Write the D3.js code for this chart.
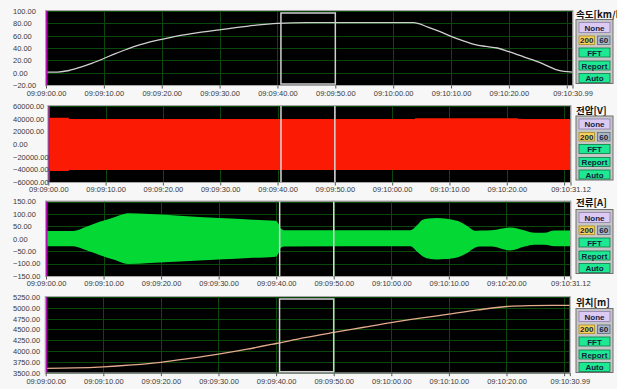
<!DOCTYPE html>
<html>
<head>
<meta charset="utf-8">
<script src="https://cdn.jsdelivr.net/npm/d3@7"></script>
<style>
  html, body { margin: 0; padding: 0; background: #f7f7f7; }
  svg { display: block; }
  .tick text { font-family: "Liberation Sans", Arial, sans-serif; font-size: 7.5px; fill: #3a3a3a; }
  .title { font-family: "Noto Sans CJK KR", sans-serif; font-weight: 700; font-size: 9.5px; fill: #111; }
  .btn { font-family: "Liberation Sans", Arial, sans-serif; font-weight: 700; font-size: 8px; fill: #13233d; }
</style>
</head>
<body>
<svg id="chart" width="617" height="389"></svg>
<script>
// Time is in seconds after 09:09:00.00
const tickSeconds = [0, 10, 20, 30, 40, 50, 60, 70, 80, 90];
const recordEnds = [90.99, 91.12, 91.12, 90.99];
const panelTitles = ["속도[km/h]", "전압[V]", "전류[A]", "위치[m]"];
const selection = [40.6, 50.0];

// Speed [km/h]
const speedTime  = [0, 2, 4, 6, 8, 10, 12, 14, 16, 18, 20, 23, 26, 30, 35, 40, 45, 55, 63.5, 66, 68, 70, 72, 74, 76, 78, 80, 82, 84, 86, 88, 89.5, 90.99];
const speedValue = [0.8, 1, 3.5, 9, 15.5, 23, 31, 38, 44.5, 50, 54, 60, 64.5, 69.5, 75.5, 80, 81, 81, 81, 74, 67, 59, 52, 46, 42.5, 40, 34, 27.5, 21, 14, 5.5, 2, 1];
const speedTicks = [-20, 0, 20, 40, 60, 80, 100];

// Voltage [V] envelope of the carrier waveform
const voltTime  = [0, 3.5, 3.6, 63, 64, 81, 82, 91.12];
const voltUpper = [41500, 41500, 39500, 39500, 40800, 40800, 39500, 39500];
const voltLower = [-42500, -42500, -41000, -41000, -41000, -41000, -41000, -41000];
const voltTicks = [-60000, -40000, -20000, 0, 20000, 40000, 60000];

// Current [A] envelope
const currTime  = [0, 4.7, 7, 9.3, 12, 14.2, 18, 23.2, 30, 36, 39.9, 40.4, 40.8, 41.5, 63.3, 64.5, 65.3, 66.4, 68, 69.3, 71.6, 73.4, 74.5, 75.5, 77.4, 80.6, 83.2, 84.9, 86.6, 88.4, 91.12];
const currUpper = [31, 31, 48, 68, 88, 103, 100, 93, 84, 77, 72, 60, 41, 34, 34, 55, 75, 82, 84, 82, 71, 48, 32, 33, 34, 45, 33, 24, 24, 33, 33];
const currLower = [-30, -30, -46, -65, -86, -102, -98, -92, -84, -77, -72, -58, -36, -31, -30, -52, -68, -80, -84, -82, -74, -54, -36, -31, -31, -47, -31, -24, -24, -30, -30];
const currTicks = [-150, -100, -50, 0, 50, 100, 150];

// Position [m]
const posTime  = [0, 5, 10, 15, 20, 25, 30, 35, 40, 45, 50, 55, 60, 65, 70, 75, 80, 84, 88, 90.99];
const posValue = [3602, 3610, 3635, 3680, 3741, 3830, 3930, 4045, 4175, 4310, 4430, 4545, 4660, 4760, 4852, 4950, 5030, 5052, 5058, 5058];
const posTicks = [3500, 3750, 4000, 4250, 4500, 4750, 5000, 5250];

// Button labels on each side panel
const buttonRows = [["None"], ["200", "60"], ["FFT"], ["Report"], ["Auto"]];

const svg = d3.select("#chart");

const layouts = [
  { left: 46,   right: 572.5, top: 11,    bottom: 85,    box: 19.5,  titleY: 17.5, pad: 2 },
  { left: 48.3, right: 570.5, top: 106,   bottom: 182,   box: 116,   titleY: 114,  pad: 1.5 },
  { left: 46,   right: 570.4, top: 201.5, bottom: 276,   box: 209.5, titleY: 205.5, pad: 1.5 },
  { left: 45.7, right: 569.8, top: 297,   bottom: 372.7, box: 308.5, titleY: 305.5, pad: 2 }
];

const yDomains = [[-20, 100], [-60000, 60000], [-150, 150], [3500, 5250]];
const yTickSets = [speedTicks, voltTicks, currTicks, posTicks];

function clock(s) {
  const total = 9 * 3600 + 9 * 60 + s;
  const hh = Math.floor(total / 3600);
  const mm = Math.floor((total - hh * 3600) / 60);
  const ss = total - hh * 3600 - mm * 60;
  const p = v => String(v).padStart(2, "0");
  return p(hh) + ":" + p(mm) + ":" + (ss < 10 ? "0" : "") + ss.toFixed(2);
}

layouts.forEach((L, i) => {
  const end = recordEnds[i];
  const x = d3.scaleLinear().domain([0, end]).range([L.left, L.right]);
  const y = d3.scaleLinear().domain(yDomains[i]).range([L.bottom, L.top]);
  const g = svg.append("g");
  const w = L.right - L.left, h = L.bottom - L.top;

  // plot background
  g.append("rect").attr("x", L.left).attr("y", L.top).attr("width", w).attr("height", h)
    .attr("fill", "#000");

  // grid
  const gridColor = "#0c480c";
  g.append("g").selectAll("line").data(yTickSets[i]).join("line")
    .attr("x1", L.left).attr("x2", L.right)
    .attr("y1", d => Math.round(y(d)) + 0.5).attr("y2", d => Math.round(y(d)) + 0.5)
    .attr("stroke", gridColor).attr("stroke-width", 1);
  g.append("g").selectAll("line").data(tickSeconds).join("line")
    .attr("x1", d => Math.round(x(d)) + 0.5).attr("x2", d => Math.round(x(d)) + 0.5)
    .attr("y1", L.top).attr("y2", L.bottom)
    .attr("stroke", gridColor).attr("stroke-width", 1);

  // data marks
  const clip = "clip" + i;
  svg.append("clipPath").attr("id", clip).append("rect")
    .attr("x", L.left).attr("y", L.top).attr("width", w).attr("height", h);
  const marks = g.append("g").attr("clip-path", `url(#${clip})`);

  if (i === 0) {
    marks.append("path").datum(speedTime.map((t, k) => [t, speedValue[k]]))
      .attr("fill", "none").attr("stroke", "#d0d0d0").attr("stroke-width", 1.3)
      .attr("d", d3.line().x(d => x(d[0])).y(d => y(d[1])).curve(d3.curveMonotoneX));
  } else if (i === 1) {
    marks.append("path").datum(voltTime.map((t, k) => [t, voltUpper[k], voltLower[k]]))
      .attr("fill", "#fb1a03")
      .attr("d", d3.area().x(d => x(d[0])).y0(d => y(d[2])).y1(d => y(d[1])).curve(d3.curveStepAfter));
  } else if (i === 2) {
    marks.append("path").datum(currTime.map((t, k) => [t, currUpper[k], currLower[k]]))
      .attr("fill", "#03d834")
      .attr("d", d3.area().x(d => x(d[0])).y0(d => y(d[2])).y1(d => y(d[1])).curve(d3.curveMonotoneX));
  } else {
    marks.append("path").datum(posTime.map((t, k) => [t, posValue[k]]))
      .attr("fill", "none").attr("stroke", "#e4ab8c").attr("stroke-width", 1.3)
      .attr("d", d3.line().x(d => x(d[0])).y(d => y(d[1])).curve(d3.curveMonotoneX));
  }

  // selection window
  const sx0 = x(selection[0]), sx1 = x(selection[1]);
  if (i === 0 || i === 3) {
    g.append("rect").attr("x", sx0).attr("y", L.top + 2).attr("width", sx1 - sx0).attr("height", h - 3)
      .attr("fill", "none").attr("stroke", "#cfcfcf").attr("stroke-width", 1.5);
  } else {
    [sx0, sx1].forEach(v => g.append("line").attr("x1", v).attr("x2", v)
      .attr("y1", L.top).attr("y2", L.bottom).attr("stroke", "#d8d8d8").attr("stroke-width", 1.5));
  }

  // cursor at start
  g.append("line").attr("x1", L.left + 0.8).attr("x2", L.left + 0.8)
    .attr("y1", L.top).attr("y2", L.bottom).attr("stroke", "#b010b0").attr("stroke-width", 1.6);

  // frame
  g.append("rect").attr("x", L.left - 0.5).attr("y", L.top - 0.5).attr("width", w + 1).attr("height", h + 1)
    .attr("fill", "none").attr("stroke", "#a8a8a8").attr("stroke-width", 1);

  // axes
  const xa = g.append("g").attr("transform", `translate(0,${L.bottom + 0.5})`)
    .call(d3.axisBottom(x).tickValues(tickSeconds.concat([end]))
      .tickFormat(d => d === 90 ? "" : clock(d)).tickSize(3).tickPadding(L.pad));
  xa.select(".domain").remove();
  xa.selectAll(".tick line").attr("stroke", "#555");

  const ya = g.append("g").attr("transform", `translate(${L.left},0)`)
    .call(d3.axisLeft(y).tickValues(yTickSets[i]).tickFormat(d3.format(".2f")).tickSize(0));
  ya.select(".domain").remove();
  ya.selectAll(".tick text").attr("text-anchor", "start").attr("x", 13 - L.left);

  // title
  g.append("text").attr("class", "title").attr("x", 576).attr("y", L.titleY).text(panelTitles[i]);

  // side button panel
  const bx = 576, bw = 37, by = L.box;
  g.append("rect").attr("x", bx).attr("y", by).attr("width", bw).attr("height", 64)
    .attr("fill", "#c6c6c6").attr("stroke", "#6e6e6e").attr("stroke-width", 1);
  const rowY = [3, 16.5, 28.5, 41.5, 54];
  const rowH = [10, 8.5, 9, 9, 9];
  buttonRows.forEach((row, r) => {
    if (row.length === 1) {
      const green = r > 1;
      g.append("rect").attr("x", bx + 3).attr("y", by + rowY[r]).attr("width", bw - 6).attr("height", rowH[r])
        .attr("fill", green ? "#1ee892" : "#dccaf4").attr("stroke", green ? "#0c7a48" : "#8c7cae").attr("stroke-width", 0.8);
      g.append("text").attr("class", "btn").attr("x", bx + bw / 2).attr("y", by + rowY[r] + rowH[r] / 2 + 3)
        .attr("text-anchor", "middle").text(row[0]);
    } else {
      const cells = [[bx + 3, 15.5, "#f8d05c", "#a88a20"], [bx + 21.5, 12.5, "#a8b6c6", "#5a6a7a"]];
      row.forEach((lab, c) => {
        const [cx, cw, fill, stroke] = cells[c];
        g.append("rect").attr("x", cx).attr("y", by + rowY[r]).attr("width", cw).attr("height", rowH[r])
          .attr("fill", fill).attr("stroke", stroke).attr("stroke-width", 0.8);
        g.append("text").attr("class", "btn").attr("x", cx + cw / 2).attr("y", by + rowY[r] + rowH[r] / 2 + 3)
          .attr("text-anchor", "middle").text(lab);
      });
    }
  });
});
</script>
</body>
</html>
